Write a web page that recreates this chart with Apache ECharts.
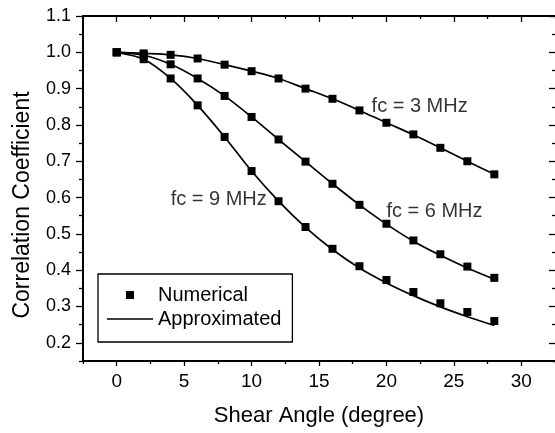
<!DOCTYPE html>
<html>
<head>
<meta charset="utf-8">
<style>
  html, body { margin: 0; padding: 0; background: #fff; }
  #chart { width: 555px; height: 433px; }
</style>
<script src="https://cdn.jsdelivr.net/npm/echarts@6/dist/echarts.min.js"></script>
</head>
<body>
<div id="chart"></div>
<script>
// shear angles (degree) where the numerical points sit
const angles = [0, 2, 4, 6, 8, 10, 12, 14, 16, 18, 20, 22, 24, 26, 28]

// numerical correlation coefficients
const num3MHz = [1.000, 0.997, 0.993, 0.983, 0.966, 0.948, 0.928, 0.900, 0.872, 0.840, 0.806, 0.774, 0.737, 0.700, 0.664]
const num6MHz = [1.000, 0.992, 0.967, 0.928, 0.880, 0.822, 0.760, 0.699, 0.638, 0.580, 0.528, 0.482, 0.444, 0.410, 0.379]
const num9MHz = [1.000, 0.981, 0.928, 0.854, 0.767, 0.673, 0.590, 0.519, 0.459, 0.411, 0.373, 0.340, 0.309, 0.285, 0.260]

// approximated curves
const approx3MHz = [1.000, 0.997, 0.993, 0.983, 0.966, 0.948, 0.928, 0.900, 0.872, 0.840, 0.806, 0.773, 0.737, 0.700, 0.664]
const approx6MHz = [1.000, 0.992, 0.967, 0.928, 0.880, 0.822, 0.760, 0.699, 0.638, 0.580, 0.527, 0.480, 0.441, 0.406, 0.375]
const approx9MHz = [1.000, 0.981, 0.928, 0.854, 0.767, 0.673, 0.590, 0.518, 0.457, 0.406, 0.365, 0.330, 0.299, 0.272, 0.248]

// curve labels
const annoText = ['fc = 3 MHz', 'fc = 6 MHz', 'fc = 9 MHz']
const annoX = [18.9, 20.0, 4.0]
const annoY = [0.851, 0.562, 0.595]

// axis ticks
const xMajor = [0, 5, 10, 15, 20, 25, 30]
const xMinor = [-2.5, 2.5, 7.5, 12.5, 17.5, 22.5, 27.5, 32.5]
const yMajor = [0.2, 0.3, 0.4, 0.5, 0.6, 0.7, 0.8, 0.9, 1.0, 1.1]
const yMinor = [0.15, 0.25, 0.35, 0.45, 0.55, 0.65, 0.75, 0.85, 0.95, 1.05]

const FONT = '"Liberation Sans", Arial, Helvetica, sans-serif'
const chart = echarts.init(document.getElementById('chart'), null, { renderer: 'canvas' })

const pairs = (ys) => ys.map((y, i) => [angles[i], y])
const frame = { show: true, onZero: false, lineStyle: { color: '#000', width: 2 } }
const noLine = { show: false, onZero: false }

function xAx(position, ticks, len, inside, withLabels, line) {
  return {
    type: 'value', position, min: -2.5, max: 32.5,
    axisLine: line ? frame : noLine,
    splitLine: { show: false },
    axisTick: { show: true, customValues: ticks, length: len, inside, lineStyle: { color: '#000', width: 1.3 } },
    axisLabel: withLabels
      ? { show: true, customValues: xMajor, color: '#000', fontSize: 19, fontFamily: FONT, margin: 11 }
      : { show: false }
  }
}
function yAx(position, ticks, len, inside, withLabels, line) {
  return {
    type: 'value', position, min: 0.15, max: 1.1,
    axisLine: line ? frame : noLine,
    splitLine: { show: false },
    axisTick: { show: true, customValues: ticks, length: len, inside, lineStyle: { color: '#000', width: 1.3 } },
    axisLabel: withLabels
      ? { show: true, customValues: yMajor, color: '#000', fontSize: 18, fontFamily: FONT, margin: 12,
          formatter: (v) => Number(v).toFixed(1) }
      : { show: false }
  }
}

const xAxes = [
  xAx('bottom', xMajor, 5, false, true, true),
  xAx('bottom', xMinor, 3, false, false, false),
  xAx('top', xMajor, 6, true, false, true),
  xAx('top', xMinor, 3, true, false, false)
]
Object.assign(xAxes[0], {
  name: 'Shear Angle (degree)', nameLocation: 'middle', nameGap: 44,
  nameTextStyle: { color: '#000', fontSize: 22, fontFamily: FONT }
})
// the right frame line falls just past the picture edge, only its inner ticks show
const yAxes = [
  yAx('left', yMajor, 7, false, true, true),
  yAx('left', yMinor, 4, false, false, false),
  yAx('right', yMajor, 6, true, false, false),
  yAx('right', yMinor, 3, true, false, false)
]
Object.assign(yAxes[0], {
  name: 'Correlation Coefficient', nameLocation: 'middle', nameGap: 49,
  nameTextStyle: { color: '#000', fontSize: 23, fontFamily: FONT, padding: [0, 33, 0, 0] }
})

function approxSeries(ys) {
  return {
    name: 'Approximated', type: 'line', data: pairs(ys), smooth: 0.3,
    symbol: 'none', showSymbol: false, color: '#000',
    lineStyle: { color: '#000', width: 1.7 }, z: 2
  }
}
function numSeries(ys) {
  return {
    name: 'Numerical', type: 'scatter', data: pairs(ys),
    symbol: 'rect', symbolSize: 8, itemStyle: { color: '#000', opacity: 1 }, z: 3
  }
}

chart.setOption({
  animation: false,
  backgroundColor: '#fff',
  textStyle: { fontFamily: FONT },
  grid: { left: 83, top: 16, width: 474, height: 345 },
  xAxis: xAxes,
  yAxis: yAxes,
  legend: {
    orient: 'vertical', left: 98, top: 274,
    padding: [11, 11, 13, 9], itemGap: 4,
    itemWidth: 46, itemHeight: 8,
    borderColor: '#000', borderWidth: 1.3, borderRadius: 0,
    backgroundColor: '#fff',
    textStyle: { color: '#000', fontSize: 20, fontFamily: FONT },
    selectedMode: false,
    data: [
      { name: 'Numerical', icon: 'path://M0,0 h10 v10 h-10 z', itemStyle: { color: '#000' } },
      { name: 'Approximated', icon: 'path://M0,0 h100 v3.2 h-100 z', itemStyle: { color: '#000' } }
    ]
  },
  series: [
    approxSeries(approx3MHz), approxSeries(approx6MHz), approxSeries(approx9MHz),
    numSeries(num3MHz), numSeries(num6MHz), numSeries(num9MHz),
    {
      name: 'labels', type: 'scatter', symbolSize: 0, silent: true, z: 4,
      data: annoText.map((t, i) => [annoX[i], annoY[i]]),
      label: {
        show: true, position: 'right', distance: 0, color: '#000',
        fontSize: 20, fontFamily: FONT,
        formatter: (p) => annoText[p.dataIndex]
      }
    }
  ]
})
</script>
</body>
</html>
